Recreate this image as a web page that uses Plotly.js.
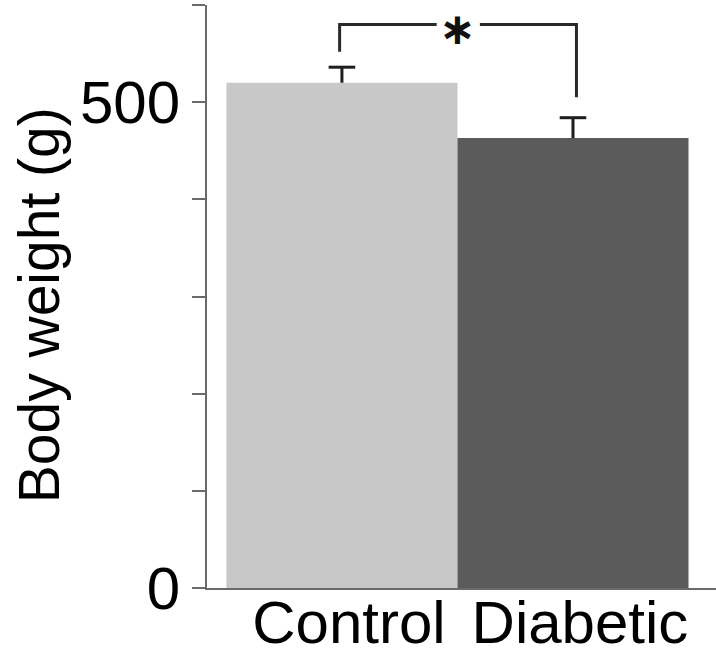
<!DOCTYPE html>
<html>
<head>
<meta charset="utf-8">
<script src="https://cdn.plot.ly/plotly-3.0.1.min.js"></script>
<style>html,body{margin:0;padding:0;background:#fff;}#chart{width:716px;height:659px;}</style>
</head>
<body>
<div id="chart"></div>
<script>
// ---- data ----
const categories = ["Control", "Diabetic"];
const bodyWeight = [520, 463];
const sem = [16, 21];
const barColors = ["#c8c8c8", "#5b5b5b"];
const yTickVals = [0, 100, 200, 300, 400, 500, 600];
const yTickText = ["0", "", "", "", "", "500", ""];
const yTitle = "Body weight (g)";
// significance bracket (data units)
const sigLabel = "\u2217";
const sigTop = 580;
const sigLeftBottom = 552;
const sigRightBottom = 505;

const capY = bodyWeight.map((v, i) => v + sem[i]);
const xIdx = categories.map((c, i) => i);

const traces = [
  {
    type: "bar",
    x: xIdx,
    y: bodyWeight,
    width: 1,
    marker: { color: barColors, line: { width: 0 } },
    error_y: { type: "data", symmetric: false, array: sem, arrayminus: [0, 0], width: 0, thickness: 3, color: "#1e1e1e" },
    hoverinfo: "skip",
    showlegend: false
  },
  {
    type: "scatter",
    mode: "markers",
    x: xIdx,
    y: capY,
    marker: { symbol: "line-ew", size: 19, line: { width: 3, color: "#1e1e1e" } },
    hoverinfo: "skip",
    showlegend: false
  }
];

const lineStyle = { color: "#2a2a2a", width: 3 };
const layout = {
  width: 716,
  height: 659,
  margin: { l: 207, r: 0, t: 5, b: 71 },
  paper_bgcolor: "#fff",
  plot_bgcolor: "#fff",
  font: { family: "Liberation Sans, Arial, sans-serif", color: "#000" },
  xaxis: {
    range: [-0.584, 1.619],
    tickvals: xIdx,
    ticktext: categories,
    showgrid: false,
    zeroline: false,
    showline: true,
    linecolor: "#6a6a6a",
    linewidth: 2,
    ticks: "",
    tickfont: { size: 60, color: "#000" },
    ticklabelshift: 7,
    ticklabelstandoff: -19,
    fixedrange: true
  },
  yaxis: {
    range: [0, 600],
    tickvals: yTickVals,
    ticktext: yTickText,
    showgrid: false,
    zeroline: false,
    showline: true,
    linecolor: "#6a6a6a",
    linewidth: 2,
    ticks: "outside",
    ticklen: 13,
    tickwidth: 2,
    tickcolor: "#6a6a6a",
    tickfont: { size: 60, color: "#000" },
    fixedrange: true
  },
  shapes: [
    { type: "line", xref: "paper", yref: "y", x0: 0, x1: 0, ysizemode: "pixel", yanchor: 0, y0: 0, y1: -12, line: { color: "#6a6a6a", width: 2 } },
    { type: "path", xref: "x", yref: "y",
      path: `M ${xIdx[0] - 0.01},${sigLeftBottom} L ${xIdx[0] - 0.01},${sigTop} L 0.41,${sigTop}`, line: lineStyle },
    { type: "path", xref: "x", yref: "y",
      path: `M 0.597,${sigTop} L ${xIdx[1] + 0.015},${sigTop} L ${xIdx[1] + 0.015},${sigRightBottom}`, line: lineStyle }
  ],
  annotations: [
    { x: 0.5, y: sigTop, xref: "x", yref: "y", text: "<b>" + sigLabel + "</b>", showarrow: false,
      font: { size: 44, color: "#111", family: "DejaVu Sans, sans-serif" }, yanchor: "middle", xanchor: "center", yshift: -4, borderpad: 0 },
    { x: -0.33, y: 0.485, xref: "paper", yref: "paper", text: yTitle, textangle: -90, showarrow: false,
      font: { size: 57, color: "#000" }, xanchor: "center", yanchor: "middle" }
  ]
};

Plotly.newPlot("chart", traces, layout, { displayModeBar: false, staticPlot: true });
</script>
</body>
</html>
